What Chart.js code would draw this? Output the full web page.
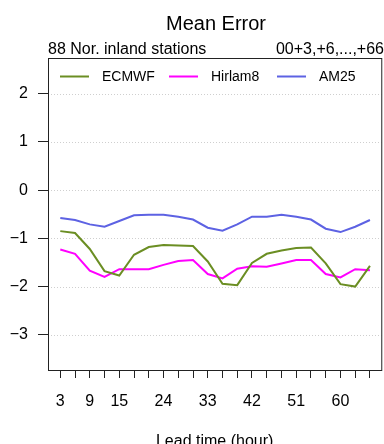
<!DOCTYPE html>
<html>
<head>
<meta charset="utf-8">
<script src="https://cdn.jsdelivr.net/npm/chart.js@4/dist/chart.umd.min.js"></script>
<style>
  html, body { margin: 0; padding: 0; background: #fff; }
  canvas { display: block; }
</style>
</head>
<body>
<canvas id="chart" width="384" height="444"></canvas>
<script>
// Lead times (hours) and mean error per model
const leadTimes = [3, 6, 9, 12, 15, 18, 21, 24, 27, 30, 33, 36, 39, 42, 45, 48, 51, 54, 57, 60, 63, 66];
const ecmwf = [-0.85, -0.89, -1.22, -1.68, -1.77, -1.34, -1.18, -1.14, -1.15, -1.16, -1.48, -1.94, -1.97, -1.51, -1.32, -1.25, -1.20, -1.19, -1.52, -1.95, -2.00, -1.57];
const hirlam8 = [-1.23, -1.32, -1.67, -1.80, -1.64, -1.64, -1.64, -1.55, -1.47, -1.45, -1.74, -1.83, -1.63, -1.58, -1.59, -1.52, -1.45, -1.45, -1.74, -1.81, -1.64, -1.66];
const am25 = [-0.58, -0.62, -0.71, -0.76, -0.64, -0.52, -0.51, -0.51, -0.55, -0.61, -0.78, -0.84, -0.71, -0.55, -0.55, -0.51, -0.55, -0.61, -0.80, -0.87, -0.76, -0.62];

const seriesNames = ['ECMWF', 'Hirlam8', 'AM25'];
const seriesColors = ['#6b8e23', '#ff00ff', '#5d62e3'];
const yTicks = [-3, -2, -1, 0, 1, 2];
const xLabelled = [3, 9, 15, 24, 33, 42, 51, 60];

const FONT = "'Liberation Sans', Arial, sans-serif";

function toPoints(vals) {
  return vals.map((v, i) => ({ x: leadTimes[i], y: v }));
}

// Frame, dotted grid, titles and in-plot legend
const overlay = {
  id: 'overlay',
  beforeDatasetsDraw(chart) {
    const { ctx, chartArea: a, scales: { y } } = chart;
    ctx.save();
    ctx.strokeStyle = '#cfcfcf';
    ctx.lineWidth = 1;
    ctx.setLineDash([1, 2]);
    yTicks.forEach(v => {
      const py = Math.round(y.getPixelForValue(v)) + 0.5;
      ctx.beginPath();
      ctx.moveTo(a.left, py);
      ctx.lineTo(a.right, py);
      ctx.stroke();
    });
    ctx.restore();
  },
  afterDraw(chart) {
    const { ctx, chartArea: a } = chart;
    ctx.save();
    ctx.strokeStyle = '#222';
    ctx.lineWidth = 1;
    ctx.strokeRect(a.left + 0.5, a.top + 0.5, a.right - a.left, a.bottom - a.top);

    ctx.fillStyle = '#000';
    ctx.textBaseline = 'middle';
    ctx.font = '20px ' + FONT;
    ctx.textAlign = 'center';
    ctx.fillText('Mean Error', 216, 24);

    ctx.font = '16px ' + FONT;
    ctx.textAlign = 'left';
    ctx.fillText('88 Nor. inland stations', 48, 50);
    ctx.textAlign = 'right';
    ctx.fillText('00+3,+6,...,+66', 384, 50);

    ctx.textAlign = 'center';
    ctx.fillText('Lead time (hour)', (a.left + a.right) / 2, 442);

    // legend
    const legendX = [60, 169, 277];
    ctx.font = '14px ' + FONT;
    ctx.textAlign = 'left';
    chart.data.datasets.forEach((ds, i) => {
      const lx = legendX[i];
      ctx.strokeStyle = ds.borderColor;
      ctx.lineWidth = 2;
      ctx.beginPath();
      ctx.moveTo(lx, 76.5);
      ctx.lineTo(lx + 29, 76.5);
      ctx.stroke();
      ctx.fillStyle = '#000';
      ctx.fillText(ds.label, lx + 42, 77);
    });
    ctx.restore();
  }
};

new Chart(document.getElementById('chart'), {
  type: 'line',
  data: {
    datasets: [ecmwf, hirlam8, am25].map((vals, i) => ({
      label: seriesNames[i],
      data: toPoints(vals),
      borderColor: seriesColors[i],
      backgroundColor: seriesColors[i],
      borderWidth: 2,
      pointRadius: 0,
      tension: 0,
      fill: false
    }))
  },
  options: {
    responsive: false,
    animation: false,
    devicePixelRatio: 1,
    layout: { padding: { left: 0, top: 58, right: 1, bottom: 0 } },
    plugins: {
      legend: { display: false },
      title: { display: false },
      tooltip: { enabled: false }
    },
    scales: {
      x: {
        type: 'linear',
        min: 0.5,
        max: 68.3,
        afterBuildTicks: scale => {
          scale.ticks = leadTimes.map(v => ({ value: v }));
        },
        afterFit: scale => { scale.height = 74; },
        ticks: {
          autoSkip: false,
          maxRotation: 0,
          padding: 14,
          color: '#000',
          font: { family: FONT, size: 16 },
          callback: v => (xLabelled.includes(v) ? String(v) : '')
        },
        grid: {
          drawOnChartArea: false,
          drawTicks: true,
          tickLength: 8,
          tickColor: '#222',
          tickWidth: 1
        },
        border: { display: false }
      },
      y: {
        min: -3.73,
        max: 2.74,
        afterBuildTicks: scale => {
          scale.ticks = yTicks.map(v => ({ value: v }));
        },
        afterFit: scale => { scale.width = 48; },
        ticks: {
          padding: 10,
          color: '#000',
          font: { family: FONT, size: 16 },
          callback: v => (v < 0 ? '\u2212' + Math.abs(v) : String(v))
        },
        grid: {
          drawOnChartArea: false,
          drawTicks: true,
          tickLength: 10,
          tickColor: '#222',
          tickWidth: 1
        },
        border: { display: false }
      }
    }
  },
  plugins: [overlay]
});
</script>
</body>
</html>
